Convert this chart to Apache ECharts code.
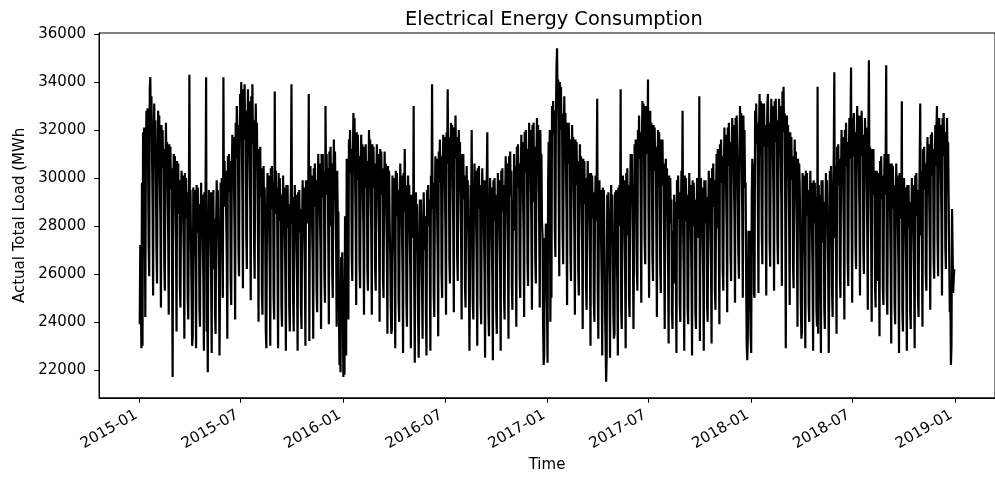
<!DOCTYPE html>
<html>
<head>
<meta charset="utf-8">
<title>Electrical Energy Consumption</title>
<script src="https://cdn.jsdelivr.net/npm/echarts@6.0.0/dist/echarts.min.js"></script>
<style>
    html, body { margin: 0; padding: 0; background: #fff; }
    .line { width: 995px; height: 478px; }
</style>
</head>
<body>
<div class="line"></div>
<script>
// daily actual total load (MWh), one line per month, starting 2015-01-01
let load2015 = [
    23900, 27200, 25100, 22900, 29800, 23000, 31900, 30600, 32100, 28700, 24200, 30500, 32800, 31200, 32900, 30300, 27100, 25900, 33700, 34200, 31900, 33400, 31200, 28900, 25100, 31600, 33100, 30800, 32400, 30200, 27000,
    25600, 30600, 32800, 31200, 32600, 29800, 28300, 24600, 32200, 30700, 32000, 30400, 31200, 26400, 25300, 30300, 32300, 29900, 31500, 29400, 27600, 24300, 31400, 29800, 31300, 29500, 30400, 25900,
    21700, 29600, 31000, 28900, 30900, 28600, 27200, 23600, 30700, 29200, 30600, 28500, 29900, 25400, 24600, 28800, 30300, 29100, 30100, 28200, 26700, 23300, 30200, 28600, 30000, 28300, 29400, 25000, 24100, 28400, 34300,
    28300, 29500, 27000, 25000, 23000, 23400, 29600, 27900, 29500, 27600, 26200, 22900, 29700, 28100, 29600, 27700, 28900, 24600, 23800, 28000, 29800, 27800, 29300, 27300, 25900, 22800, 29400, 27900, 29300, 34200,
    23600, 24600, 21900, 27800, 29500, 27600, 29400, 27300, 25800, 22700, 29400, 27900, 29500, 26200, 28300, 24300, 23500, 28100, 29900, 28000, 29500, 27400, 25700, 22600, 25500, 29800, 28400, 30000, 27900, 25000, 34200,
    28800, 30700, 28900, 30300, 28400, 26800, 23300, 30900, 29400, 31000, 29500, 30700, 25800, 24700, 29900, 31800, 30200, 31700, 29600, 27700, 24100, 32300, 30800, 33000, 31100, 32200, 27000, 25900, 31500, 33500,
    32000, 34000, 31700, 29300, 25400, 33700, 31900, 33900, 31600, 32800, 27500, 26200, 31500, 33700, 31800, 33200, 30700, 28900, 24900, 33400, 31600, 33900, 31400, 32400, 27200, 25800, 31000, 33100, 30900, 32300, 30300,
    27400, 24000, 31200, 29600, 31300, 29200, 30400, 25200, 24300, 28600, 30500, 28400, 29600, 27500, 23600, 22900, 28100, 30200, 28600, 30100, 27900, 26300, 23000, 30400, 28900, 30500, 28700, 29800, 25000, 24100, 33600,
    28800, 30300, 28500, 29600, 26200, 22900, 30200, 28700, 30000, 28200, 29300, 24700, 23800, 28300, 30100, 28200, 29600, 27500, 25900, 22800, 29700, 28100, 29700, 27900, 28900, 24600, 23600, 28000, 29800, 33900,
    28100, 29200, 24800, 23600, 27900, 29700, 27800, 29300, 27200, 25700, 22800, 29400, 28000, 29500, 27700, 28700, 24600, 23700, 28000, 29900, 28200, 29600, 27400, 26000, 23000, 29900, 28500, 29900, 28100, 29200, 33500,
    23200, 28600, 30500, 28700, 30100, 28000, 26500, 23300, 30400, 29100, 30600, 28800, 29900, 25400, 24400, 29100, 31000, 29200, 30600, 28500, 27000, 23700, 31000, 29600, 31000, 29200, 30300, 25900, 24800, 33000,
    29600, 31000, 29300, 30400, 27300, 23900, 31100, 28000, 31300, 29500, 30600, 26100, 25000, 29800, 31600, 29700, 31100, 28900, 27200, 23800, 30300, 28200, 28600, 24800, 22200, 22600, 21900, 26700, 25500, 26900, 24900
];
let load2016 = [
    21700, 23600, 21800, 28400, 27600, 22600, 30800, 28900, 27600, 24100, 31600, 30300, 32000, 30200, 31200, 26700, 25700, 30700, 32700, 31200, 32500, 30100, 28300, 24700, 31900, 30500, 31800, 29900, 30900, 26300, 25400,
    29900, 31800, 30000, 31400, 29200, 27700, 24300, 31300, 30000, 31400, 29600, 30700, 26200, 25300, 30100, 32000, 30300, 31600, 29400, 27800, 24300, 31400, 29900, 31300, 29600, 30600, 26100, 25300, 29700,
    31400, 29600, 31000, 28900, 27400, 24000, 31200, 29800, 31100, 29300, 30400, 25800, 25000, 29300, 31100, 29200, 30600, 28500, 26900, 23500, 30500, 29100, 30300, 28000, 26800, 24600, 23500, 23700, 30100, 28700, 30000,
    28000, 26400, 22900, 30300, 28900, 30200, 28400, 29500, 24900, 24000, 28800, 30600, 28700, 30100, 27900, 26200, 22700, 30200, 28600, 31200, 28900, 29700, 24900, 23800, 28300, 30100, 28300, 29700, 27600, 26000,
    22900, 29300, 27900, 29300, 27500, 33000, 25600, 22300, 27600, 29400, 27500, 28900, 26800, 24100, 22500, 25200, 29100, 27700, 29100, 27000, 25400, 23300, 27600, 29400, 27700, 27000, 28400, 24300, 22600, 29500, 28200,
    29700, 28000, 29100, 25800, 22800, 30100, 28800, 33900, 28700, 29800, 25100, 24200, 29000, 30900, 29400, 30800, 28700, 26800, 23400, 31100, 29800, 31600, 29900, 30900, 26000, 25000, 29900, 31800, 30300, 31700,
    29700, 27700, 24300, 31900, 30600, 33700, 30700, 31700, 26600, 25600, 30400, 32300, 30800, 32200, 29900, 27900, 24400, 32100, 30900, 32600, 30800, 31700, 26700, 25700, 30200, 32000, 30200, 31500, 29300, 27500, 24100,
    31000, 29600, 31000, 29100, 30100, 25500, 24600, 28700, 30500, 28600, 29900, 27600, 25800, 22800, 25800, 29700, 28600, 32000, 28100, 24800, 24100, 28700, 30600, 28900, 30300, 28100, 26400, 23000, 30400, 29000, 30500,
    28700, 29700, 24900, 23900, 28600, 30400, 28500, 29900, 27700, 26000, 22500, 29900, 28500, 29900, 31900, 27500, 24400, 23400, 28200, 30000, 28200, 29600, 27400, 25700, 22400, 29900, 28500, 30000, 28200, 29300,
    24500, 23500, 28400, 30200, 28400, 29900, 27800, 26100, 22800, 30300, 28900, 30400, 28600, 29700, 25000, 24100, 29000, 30900, 29200, 30600, 28400, 26700, 23300, 30900, 29600, 31100, 29300, 30300, 25500, 24500, 29100,
    27800, 31000, 29400, 30500, 27200, 23800, 31300, 29900, 31400, 29600, 30600, 26000, 25000, 30000, 31800, 30100, 31500, 29300, 27700, 24200, 31900, 30500, 32000, 30200, 31200, 26500, 25500, 30500, 32300, 30600,
    32000, 29800, 28000, 24500, 32200, 30800, 32300, 29000, 31300, 26600, 25600, 30700, 32500, 30800, 32200, 29900, 28100, 24600, 32000, 30200, 31000, 28200, 27600, 23900, 22200, 22600, 27500, 26400, 28100, 26000, 24600
];
let load2017 = [
    22300, 29800, 31500, 30600, 32000, 24000, 26800, 25000, 33000, 31800, 33200, 31900, 32800, 27900, 26700, 32400, 34600, 35400, 33200, 34100, 29400, 25900, 34000, 32600, 33800, 32000, 32700, 27700, 26400, 31600, 33400,
    31400, 32700, 30400, 28500, 24700, 32300, 30900, 32300, 30600, 31600, 26800, 25700, 30400, 32200, 30300, 31700, 29500, 27800, 24300, 31600, 30200, 31500, 29700, 30700, 26100, 25100, 29600, 31400,
    29500, 30900, 28800, 27100, 23700, 30800, 29400, 30700, 28900, 30000, 25400, 24500, 28900, 30700, 28800, 30200, 28100, 26500, 23000, 30200, 28800, 30100, 28300, 29400, 24800, 24000, 28300, 30100, 28200, 29700, 33300,
    25300, 23300, 28100, 29900, 28000, 29500, 27300, 25700, 22600, 29600, 28200, 29500, 27400, 24500, 23200, 21500, 22600, 29300, 28000, 29400, 27200, 25600, 22500, 27800, 29700, 27900, 29300, 27100, 24200, 23300,
    23500, 29400, 28000, 29500, 27300, 25500, 22600, 29600, 28300, 29700, 28000, 33700, 24500, 23700, 28200, 30100, 28400, 29900, 27700, 26000, 22900, 30200, 28900, 30400, 27600, 29700, 25000, 24200, 29100, 31000, 29500,
    31000, 28900, 27000, 23700, 27000, 31400, 30100, 31600, 29500, 26200, 25300, 32000, 30800, 32600, 30900, 31900, 28300, 24800, 31200, 33200, 31800, 33100, 30900, 27400, 26400, 33000, 31600, 32900, 31000, 34100,
    28500, 25000, 31000, 32800, 30900, 32300, 30100, 26700, 25700, 32200, 30800, 32100, 30300, 31300, 27700, 24200, 30200, 32000, 30500, 31900, 29600, 26200, 25200, 31600, 30200, 31600, 29700, 30600, 27100, 23700, 29400,
    30800, 29000, 30400, 28200, 26400, 23100, 30100, 28700, 30000, 28100, 29100, 24300, 23700, 27800, 25600, 29300, 27900, 29000, 25800, 22700, 29900, 28600, 30100, 28300, 29400, 24700, 24000, 28500, 30300, 28600, 32800,
    27900, 26100, 22800, 30100, 28700, 30000, 28200, 29300, 24600, 23900, 28400, 30200, 28300, 29700, 27600, 25900, 22600, 29900, 28500, 29800, 28000, 29100, 24400, 23700, 28200, 30000, 28200, 29600, 27500, 33400,
    23200, 28200, 30000, 28200, 29600, 27500, 25900, 22800, 29900, 28500, 29900, 28100, 29200, 24600, 24000, 28400, 30300, 28600, 30000, 27900, 26300, 23100, 30400, 29100, 30600, 28800, 29900, 25300, 24500, 29200, 31000,
    27900, 31200, 29200, 27300, 23900, 31400, 30100, 31600, 29800, 30900, 26200, 25300, 30200, 32100, 30400, 31800, 29600, 27900, 24400, 32100, 30800, 32300, 30500, 31500, 26700, 25700, 30700, 32500, 30800, 32200,
    30100, 28300, 24800, 32500, 31100, 32600, 30800, 29000, 26800, 25800, 31100, 33000, 31300, 32700, 30400, 28600, 25000, 32600, 30900, 32000, 29600, 29800, 25600, 23000, 22400, 23500, 27800, 26600, 27800, 25000, 23400
];
let load2018 = [
    22700, 29200, 30800, 29700, 30600, 25200, 25000, 32800, 31500, 33100, 31400, 32300, 28900, 25200, 31700, 33500, 31800, 33200, 30900, 27700, 26400, 33100, 31600, 33100, 31300, 32200, 28800, 25100, 31300, 33100, 33500,
    31300, 32300, 27400, 26300, 31400, 33300, 31600, 33000, 30800, 28900, 25300, 33200, 31700, 33300, 31500, 32400, 27500, 26400, 31500, 33300, 31600, 33000, 30900, 29000, 25500, 33600, 32200, 33800,
    31900, 32700, 28700, 22900, 30800, 32600, 30800, 32200, 29900, 28100, 24700, 31900, 30400, 31700, 29900, 30900, 26300, 25400, 29800, 31600, 29800, 31100, 28900, 27200, 23800, 30800, 29300, 30600, 29700, 27200, 24800,
    23300, 23600, 30200, 28700, 30100, 28000, 26200, 22900, 30300, 28900, 30200, 28400, 29500, 24700, 24000, 28500, 30300, 28400, 29800, 27700, 25900, 22800, 29900, 28500, 29800, 28100, 29200, 24500, 23800, 33800,
    23500, 29700, 28200, 29300, 25900, 22700, 29900, 28500, 29900, 27300, 29000, 24500, 23700, 28400, 30200, 28400, 29900, 27800, 26000, 22700, 25600, 30300, 28900, 30500, 28400, 25200, 24200, 29100, 31000, 34400, 27500,
    30500, 26900, 23500, 31300, 29900, 31400, 29700, 30800, 26000, 25000, 30100, 32000, 30300, 31700, 29500, 27600, 24100, 32000, 30700, 32300, 30500, 31500, 26500, 25500, 30700, 32500, 30800, 32200, 34600, 28200,
    24800, 32500, 31200, 32700, 30900, 31900, 27100, 26200, 31100, 33000, 31300, 32600, 30400, 28600, 25100, 32600, 31200, 32800, 30900, 31800, 27000, 26000, 30600, 32500, 30800, 32100, 29800, 27900, 24500, 31800, 34900,
    29800, 31300, 29100, 27300, 24000, 31200, 29800, 31200, 29300, 30300, 25400, 24600, 29000, 30300, 25700, 30200, 28200, 26400, 23400, 30700, 29400, 30900, 29100, 30100, 25400, 24700, 29200, 31000, 29300, 30700, 34700,
    25200, 24300, 29200, 31000, 29200, 30600, 28400, 26400, 23100, 30600, 29200, 30500, 28700, 29700, 24800, 23900, 28800, 30600, 28700, 30100, 27900, 26000, 22700, 30200, 28800, 30100, 28300, 33200, 24500, 23600,
    28200, 30000, 28200, 29600, 27500, 25800, 22800, 29700, 28300, 29700, 27900, 29000, 24400, 23700, 28200, 30000, 28200, 29700, 27600, 25900, 22900, 30100, 28700, 30200, 28400, 29500, 25000, 24200, 28800, 30600, 33100,
    27600, 30300, 27000, 23800, 31200, 29800, 31300, 29500, 30600, 26000, 25300, 29900, 31700, 30000, 31400, 29300, 27600, 24500, 31800, 30400, 31900, 30100, 31200, 26600, 25800, 30400, 32200, 30500, 32000, 33000,
    27500, 25900, 30800, 32500, 30900, 32200, 30100, 28400, 25100, 32500, 31100, 32700, 30900, 31900, 27100, 26200, 30900, 32500, 30600, 31500, 28900, 26600, 24400, 25200, 22200, 23000, 28700, 27100, 25200, 25800, 26200
];
let firstDay = '2015-01-01';
let xTickLabels = ['2015-01', '2015-07', '2016-01', '2016-07', '2017-01', '2017-07', '2018-01', '2018-07', '2019-01'];
let yTickValues = [22000, 24000, 26000, 28000, 30000, 32000, 34000, 36000];

(function () {
    const DAY = 86400000;
    let fontName = 'DejaVu Sans';

    // 1. one [time, value] pair per day
    let loads = load2015.concat(load2016, load2017, load2018);
    let start = Date.parse(firstDay + 'T00:00:00Z');
    let seriesData = loads.map(function (v, i) {
        return [start + i * DAY, v];
    });

    // tick positions at the first day of each labelled month
    let xTickTimes = xTickLabels.map(function (s) {
        return Date.parse(s + '-01T00:00:00Z');
    });

    let myCharts = echarts.init(document.querySelector('.line'));

    let option = {
        animation: false,
        backgroundColor: '#fff',
        title: {
            text: 'Electrical Energy Consumption',
            left: 400,
            top: 5,
            textStyle: {
                fontFamily: fontName,
                fontSize: 19.4,
                fontWeight: 'normal',
                color: '#000'
            }
        },
        grid: {
            left: 99,
            top: 33,
            width: 908,
            height: 366,
            show: true,
            borderColor: '#000',
            borderWidth: 1
        },
        xAxis: {
            // timestamps on a plain value axis, so ticks can sit on month starts
            type: 'value',
            // 73 days of padding on each side, like matplotlib margins
            min: start - 73 * DAY,
            max: start + (loads.length - 1 + 73) * DAY,
            name: 'Time',
            nameLocation: 'middle',
            nameGap: 60,
            nameTextStyle: {
                fontFamily: fontName,
                fontSize: 15,
                color: '#000'
            },
            axisLine: {
                show: true,
                lineStyle: { color: '#000', width: 1 }
            },
            axisTick: {
                show: true,
                length: 5,
                customValues: xTickTimes,
                lineStyle: { color: '#000', width: 1 }
            },
            axisLabel: {
                customValues: xTickTimes,
                rotate: 30,
                margin: 14,
                padding: [0, 4, 0, 0],
                fontFamily: fontName,
                fontSize: 15,
                color: '#000',
                formatter: function (value) {
                    let i = xTickTimes.indexOf(value);
                    return i >= 0 ? xTickLabels[i] : '';
                }
            },
            splitLine: { show: false }
        },
        yAxis: {
            type: 'value',
            min: 20836,
            max: 36040,
            name: 'Actual Total Load (MWh',
            nameLocation: 'middle',
            nameRotate: 90,
            nameGap: 70,
            nameTextStyle: {
                fontFamily: fontName,
                fontSize: 15,
                color: '#000'
            },
            axisLine: {
                show: true,
                lineStyle: { color: '#000', width: 1 }
            },
            axisTick: {
                show: true,
                length: 5,
                customValues: yTickValues,
                lineStyle: { color: '#000', width: 1 }
            },
            axisLabel: {
                customValues: yTickValues,
                margin: 13,
                fontFamily: fontName,
                fontSize: 15,
                color: '#000',
                formatter: function (value) {
                    return String(value);
                }
            },
            splitLine: { show: false }
        },
        series: [{
            type: 'line',
            data: seriesData,
            showSymbol: false,
            symbol: 'none',
            sampling: 'none',
            lineStyle: { color: '#000', width: 2.2 }
        }]
    };

    myCharts.setOption(option);

    window.addEventListener('resize', function () {
        myCharts.resize();
    });
})();
</script>
</body>
</html>
